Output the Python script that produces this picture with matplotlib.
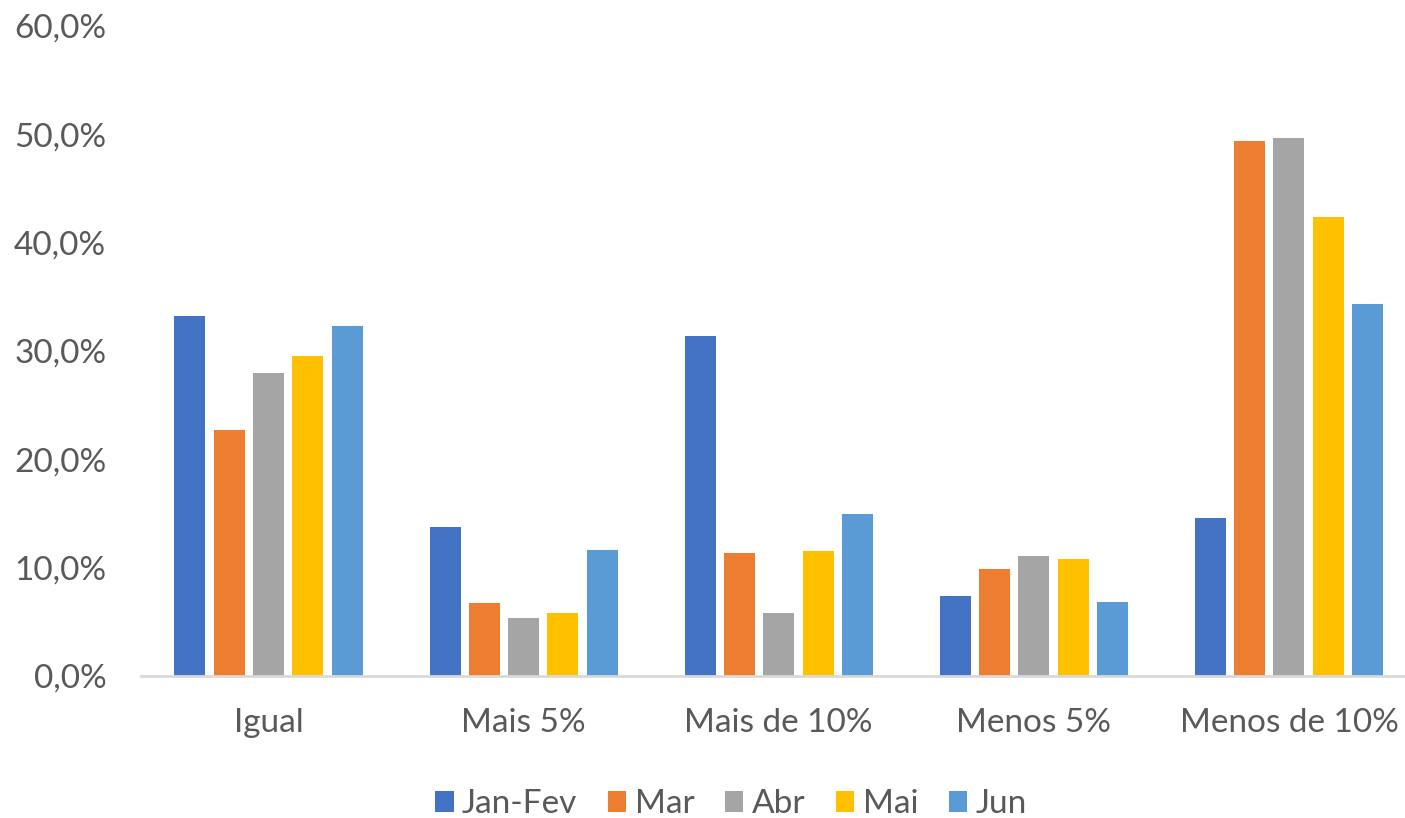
import matplotlib
matplotlib.use("Agg")
import matplotlib.pyplot as plt
import numpy as np
from matplotlib.ticker import FuncFormatter

categories = ["Igual", "Mais 5%", "Mais de 10%", "Menos 5%", "Menos de 10%"]
series_names = ["Jan-Fev", "Mar", "Abr", "Mai", "Jun"]
jan_fev = [33.2, 13.8, 31.4, 7.4, 14.6]
mar = [22.7, 6.7, 11.4, 9.9, 49.4]
abr = [28.0, 5.4, 5.8, 11.1, 49.7]
mai = [29.5, 5.8, 11.5, 10.8, 42.4]
jun = [32.3, 11.6, 15.0, 6.8, 34.3]
series = [jan_fev, mar, abr, mai, jun]
colors = ["#4472C4", "#ED7D31", "#A5A5A5", "#FFC000", "#5B9BD5"]

plt.rcParams['font.family'] = ['Lato', 'DejaVu Sans']
txt = "#595959"
fs = 24

fig = plt.figure(figsize=(14.05, 8.18), dpi=100)
W, H = 1405, 818
left_px, right_px = 141, 1405
top_px, bot_px = 26, 676
ax = fig.add_axes([left_px / W, (H - bot_px) / H, (right_px - left_px) / W, (bot_px - top_px) / H])

spacing_px = 255.1
bw = 31 / spacing_px
step = 39.3 / spacing_px
x = np.arange(len(categories))
for i, (vals, c, name) in enumerate(zip(series, colors, series_names)):
    ax.bar(x + (i - 2) * step, vals, width=bw, color=c, label=name, zorder=2)

ax.set_xlim(-0.5, -0.5 + (right_px - left_px) / spacing_px)
ax.set_ylim(0, 60)
ax.set_yticks(np.arange(0, 61, 10))
ax.yaxis.set_major_formatter(FuncFormatter(lambda v, p: f"{v:.1f}%".replace(".", ",")))
ax.set_xticks(x)
ax.set_xticklabels(categories)
ax.tick_params(axis='both', length=0, labelsize=fs, labelcolor=txt)
ax.tick_params(axis='x', pad=23)
ax.tick_params(axis='y', pad=25)
for s in ["top", "right", "left"]:
    ax.spines[s].set_visible(False)
ax.spines["bottom"].set_color("#D9D9D9")
ax.spines["bottom"].set_linewidth(2)
ax.spines["bottom"].set_zorder(3)

leg = fig.legend(loc="center", bbox_to_anchor=(731 / W, (H - 804) / H), ncol=5, frameon=False,
                 fontsize=fs, handlelength=0.55, handleheight=0.6, handletextpad=0.25,
                 columnspacing=0.92, labelcolor=txt)

fig.savefig("out.png", dpi=100)
